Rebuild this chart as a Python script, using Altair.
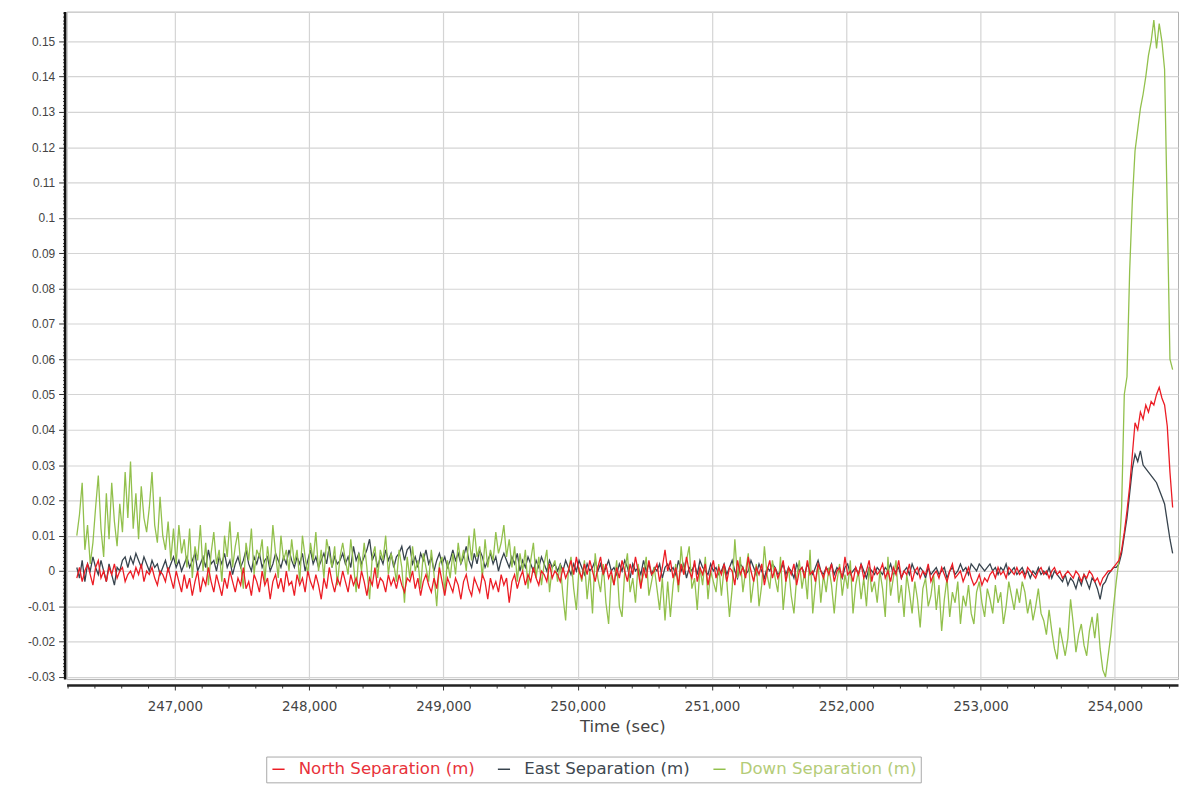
import altair as alt
import pandas as pd

# Sample grid (seconds) and separations, in millimetres
T0 = 246270
STEP = 20

north_mm = [
    -2, 1, -3, 0, 2, -1, -4, 1, 3, -2, 0, -3, 1, -1, 2, -2, 0, 1, -3, -1,
    0, -2, 1, -1, 2, -3, 0, -1, 1, -2, -4, 0, -1, -3, 1, -2, -5, 0, -3, -6,
    -1, -5, -2, -7, -3, 0, -6, -2, -4, 1, -3, -6, -1, -4, -7, -2, -5, 0, -3, -6,
    -2, -4, 1, -5, -3, -7, -1, -3, -6, 0, -4, -2, -8, -3, -1, -5, -2, -6, 0, -4,
    -3, -7, -1, -4, -2, -6, 0, -3, -5, -1, -4, -8, -2, -5, 1, -3, -6, -2, -4, 0,
    -3, -6, -1, -4, -2, -5, 0, -3, -7, -2, -4, 1, -5, -2, -3, -6, -1, -4, -2, -5,
    -1, -4, -6, -2, -3, 0, -5, -2, -7, -3, -1, -4, -6, -2, -5, 1, -3, -7, -2, -4,
    -6, -2, -4, -8, -3, -1, -5, -7, -2, -4, -6, -1, -3, -8, -2, -5, -3, -6, -1, -4,
    -2, -9, -3, -1, -5, -2, 0, -4, -1, -3, 1, -2, -4, 0, -1, -3, 2, -2, 0, -1,
    -3, 1, -2, 0, 3, -1, 4, 0, -2, 2, -1, 3, 0, -3, 1, 4, -1, 2, -2, 0,
    -4, 1, -2, 3, 0, -3, 2, -1, 4, 0, -5, 1, -2, 3, -1, 0, 2, -3, 1, 6,
    0, 3, -2, 1, -4, 2, -1, 4, 0, -2, 3, -3, 1, -1, 2, -4, 0, 3, -2, 1,
    -1, 2, -3, 1, 0, -4, 3, -1, 1, -2, 4, 0, -3, 1, -1, 2, -4, 0, 3, -2,
    1, -2, 0, 3, -3, 1, -1, 2, -4, 0, 1, -2, 3, -1, 0, -3, 2, 0, -2, 1,
    -1, 2, -3, 0, 1, -2, 4, -1, 0, -3, 1, -1, 2, -2, 0, 3, -3, 1, -1, 0,
    2, -2, 0, -3, 1, -1, 3, -2, 0, -1, 2, -3, 0, 1, -2, 0, -1, 2, -3, -1,
    0, -2, 1, -1, -3, 0, 2, -2, -1, 0, -3, -1, 1, -2, -4, -3, -1, -4, -2, -3,
    -1, 0, -2, 1, -1, 0, -2, 1, 0, -1, 1, -1, 0, -2, 1, 0, -1, -2, 0, 1,
    -1, 0, -2, 0, 1, -1, 0, -2, -1, 0, -1, -2, 0, -1, -3, -1, -2, 0, -1, -3,
    -2, -4, -2, -1, 0, 0, 1, 2, 3, 6, 11, 17, 24, 33, 42, 40, 45, 43, 47, 45,
    48, 47, 50, 52, 49, 47, 41, 28, 18,
]

east_mm = [
    1, -2, 3, -3, 2, 0, 4, 1, -1, 3, 0, -3, 2, -1, -4, 1, 0, 3, 4, 1,
    4, 2, 5, 3, 1, 4, 2, 0, 3, 1, 2, -1, 1, 3, 0, 2, 4, 1, 3, 0,
    2, 4, 1, 3, 5, 0, 2, 4, 1, 6, 2, 3, 0, 4, 2, 5, 1, 3, -1, 2,
    4, 1, 3, 6, 2, 0, 4, 2, 5, 1, 3, 4, 0, 2, 5, 3, 1, 4, 2, 6,
    3, 1, 4, 2, 5, 0, 3, 6, 2, 4, 1, 3, 5, 2, 7, 1, 4, 2, 3, 5,
    2, 4, 1, 7, 3, 5, 2, 4, 6, 9, 3, 5, 1, 4, 2, 6, 3, 5, 1, 4,
    5, 7, 3, 6, 7, 2, 4, 1, 5, 3, 6, 2, 4, 0, 3, 5, 2, 4, 1, 3,
    6, 3, 5, 2, 4, 7, 3, 1, 5, 2, 6, 4, 1, 3, 5, 2, 4, 0, 3, 5,
    3, 1, 4, 2, 5, 0, 3, 1, 4, 2, 0, 3, 1, 4, 2, 0, 3, 1, 2, 0,
    2, 0, 3, 1, -1, 2, 0, 3, 1, -1, 2, 0, 1, 3, 0, 2, -1, 1, 3, 0,
    1, -1, 2, 0, 3, 1, -2, 2, 0, 1, -1, 3, 0, 2, -1, 1, 0, 2, -2, 1,
    2, 0, 1, -1, 3, 0, 2, -2, 1, 0, 2, -1, 3, 1, 0, -1, 2, 0, 1, -1,
    0, 2, -1, 1, 3, 0, -2, 2, 1, -1, 0, 3, 1, -1, 2, 0, -2, 1, 0, 2,
    1, -1, 0, 2, -1, 1, 0, -2, 2, 0, 1, -1, 2, 0, -1, 1, 3, 0, -1, 1,
    0, 2, -1, 1, 0, -2, 1, 2, -1, 0, 1, -1, 2, 0, -2, 1, 0, -1, 1, 0,
    -1, 1, 0, 2, -1, 0, 1, -2, 0, 1, -1, 2, 0, -1, 1, 0, -2, 1, -1, 0,
    1, -1, 0, 1, -2, 0, 1, -1, 0, 2, 0, 1, -1, 2, 1, 0, 2, 1, 0, 1,
    2, 0, 1, -1, 1, 0, 2, -1, 0, 1, -1, 0, 1, -1, 0, -2, 0, -1, 1, -1,
    0, -1, 1, -2, 0, -1, -2, -3, -1, -4, -2, -3, -5, -2, -4, -1, -3, -5, -2, -3,
    -5, -8, -4, -3, -1, 0, 1, 1, 2, 5, 10, 15, 22, 29, 33, 31, 34, 30, 29, 28,
    27, 26, 25, 23, 21, 19, 14, 9, 5,
]

down_mm = [
    10, 16, 25, 6, 13, 2, 8, 18, 27, 12, 4, 22, 9, 25, 14, 7, 19, 11, 28, 15,
    31, 12, 22, 9, 24, 15, 11, 18, 28, 13, 8, 21, 10, 6, 14, 3, 12, 2, 13, 5,
    9, 1, 12, -2, 7, 3, 13, 0, 8, -4, 5, 11, 2, 6, -3, 10, 4, 14, 1, 7,
    11, 2, -5, 8, 3, 12, -1, 6, 4, 9, -3, 7, 1, 13, 5, -2, 10, 3, 6, 0,
    9, 2, 6, -3, 10, 4, -1, 8, 3, 11, 0, 6, -2, 9, 5, 1, 7, -4, 4, 8,
    3, -1, 9, 2, -6, 5, 0, 8, 1, -8, 4, 7, -2, 6, 3, 10, -1, 5, 2, -3,
    6, 1, -9, 4, -2, 7, 0, 3, -5, 5, 1, -3, 6, -1, -10, 2, 4, -6, 3, -2,
    5, -1, 8, 2, 6, 0, 10, 3, 12, 4, 7, -2, 9, 1, 6, 3, 11, 5, 8, 13,
    4, 9, 1, 7, -3, 5, 0, 6, -5, 3, 8, -2, 4, -4, 2, 6, -6, 1, 3, -3,
    2, -7, -14, 0, 4, -5, -11, 1, -3, 3, -8, 0, -12, 5, -2, -6, 2, -9, -15, -1,
    -4, 3, -10, -13, 0, 5, -6, -2, -9, 2, -4, -1, 4, -7, -3, 1, -5, -11, -2, -14,
    -3, -13, -4, 2, -6, 7, -1, 3, 7, -5, -2, -11, 1, -4, 4, -8, 0, -3, -6, 2,
    -7, 1, -3, -13, -5, 9, -2, 4, -6, 0, 5, -9, -3, 2, -10, -4, 7, -1, -5, 3,
    -2, -6, 4, -11, -3, 1, -7, -12, -2, 3, -5, 0, -8, 6, -12, -4, 2, -9, -1, -6,
    1, -4, -12, -3, 2, -7, -1, -5, 3, -12, -4, 0, -8, -2, -10, 1, -6, -3, -9, 0,
    -5, -13, 4, -7, -2, 3, -9, -4, -13, -1, -6, -12, -3, -8, -16, -5, -2, -10, -7, -1,
    -11, -4, -17, -8, -2, -13, -6, -9, -3, -15, -7, -10, -4, -12, -15, -6, -3, -9, -13, -5,
    -8, -12, -4, -9, -6, -15, -10, -3, -7, -11, -5, -9, -3, -6, -12, -8, -14, -10, -5, -12,
    -14, -18, -11, -17, -22, -25, -16, -20, -24, -19, -8, -15, -23, -18, -15, -21, -24, -17, -13, -19,
    -12, -22, -28, -30, -24, -18, -10, -3, 3, 18, 50, 55, 85, 105, 119, 125, 131, 135, 140, 146,
    150, 156, 148, 155, 150, 142, 102, 60, 57,
]

series_names = ["North Separation (m)", "East Separation (m)", "Down Separation (m)"]
line_colors = ["#ec1c24", "#37434d", "#92c04c"]
label_colors = ["#e8323a", "#3e4850", "#b4cc78"]
draw_order = ["East Separation (m)", "Down Separation (m)", "North Separation (m)"]

x_tick_values = list(range(246200, 254401, 200))
y_tick_values = [round(k * 0.001, 3) for k in range(-30, 159)]

rows = []
for name, vals in zip(series_names, [north_mm, east_mm, down_mm]):
    for i, v in enumerate(vals):
        rows.append({"time": T0 + STEP * i, "value": v / 1000.0, "series": name})
df = pd.DataFrame(rows)

FONT = "Liberation Sans"
WIDE = "DejaVu Sans"
y_major = "abs(round(datum.value * 1000)) % 10 === 0"
x_major = "datum.value % 1000 === 0"

label_color_expr = (
    f"datum.label === '{series_names[0]}' ? '{label_colors[0]}' : "
    f"datum.label === '{series_names[1]}' ? '{label_colors[1]}' : '{label_colors[2]}'"
)

x_enc = alt.X(
    "time:Q",
    scale=alt.Scale(domain=[246194, 254470], nice=False, zero=False),
    axis=alt.Axis(
        values=x_tick_values,
        format=",d",
        labelExpr=f"{x_major} ? datum.label : ''",
        labelOverlap=False,
        gridOpacity={"condition": {"test": x_major, "value": 1}, "value": 0},
        tickSize={"condition": {"test": x_major, "value": 5}, "value": 3},
        offset=6,
        domainColor="#222222",
        domainWidth=2.5,
        tickColor="#333333",
        labelFont=WIDE,
        labelFontSize=13.5,
        labelPadding=10,
        title="Time (sec)",
        titleFont=WIDE,
        titleFontSize=16.5,
        titlePadding=5,
    ),
)
y_enc = alt.Y(
    "value:Q",
    scale=alt.Scale(domain=[-0.0306, 0.1584], nice=False, zero=False),
    axis=alt.Axis(
        values=y_tick_values,
        labelExpr=f"{y_major} ? '' + datum.value : ''",
        labelOverlap=False,
        gridOpacity={"condition": {"test": y_major, "value": 1}, "value": 0},
        tickSize={"condition": {"test": y_major, "value": 6}, "value": 2},
        offset=2,
        domainColor="#111111",
        domainWidth=2.5,
        tickColor="#333333",
        labelFont=FONT,
        labelFontSize=12,
        labelPadding=4,
        title=None,
    ),
)
color_enc = alt.Color(
    "series:N",
    scale=alt.Scale(domain=series_names, range=line_colors),
    legend=alt.Legend(
        title=None,
        orient="none",
        legendX=201,
        legendY=750,
        direction="horizontal",
        symbolType="stroke",
        symbolSize=150,
        symbolStrokeWidth=1.5,
        labelFont=WIDE,
        labelFontSize=16.7,
        labelLimit=0,
        labelOffset=12,
        labelColor={"expr": label_color_expr},
        columnPadding=20,
        fillColor="white",
        strokeColor="#a8a8a8",
        padding=4,
    ),
)

layers = [
    alt.Chart(df)
    .transform_filter(alt.datum.series == name)
    .mark_line(strokeWidth=1.3)
    .encode(x=x_enc, y=y_enc, color=color_enc)
    for name in draw_order
]

chart = (
    alt.layer(*layers)
    .properties(
        width=1119,
        height=672,
        padding={"left": 59, "top": 1, "right": 2, "bottom": 103},
        autosize=alt.AutoSizeParams(type="none"),
        background="white",
    )
    .configure_view(stroke="#b0b0b0", strokeWidth=1)
    .configure_axis(
        gridColor="#d4d4d4",
        gridWidth=1.2,
        labelColor="#444444",
        titleFontWeight="normal",
        titleColor="#444444",
    )
)

chart.save("out.html", embed_options={"renderer": "svg", "actions": False})
